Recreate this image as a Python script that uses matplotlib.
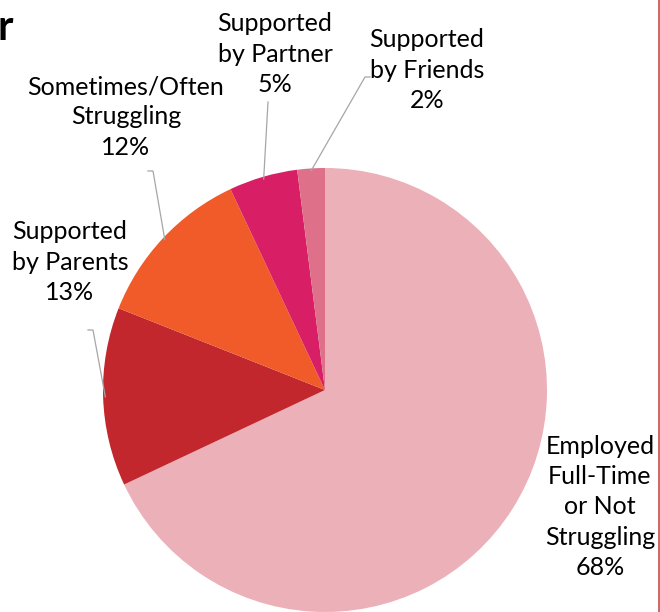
import numpy as np
import matplotlib.pyplot as plt
from matplotlib.lines import Line2D

labels = ['Employed\nFull-Time\nor Not\nStruggling', 'Supported\nby Parents',
          'Sometimes/Often\nStruggling', 'Supported\nby Partner', 'Supported\nby Friends']
values = [68, 13, 12, 5, 2]
colors = ['#ECB0B8', '#C1272D', '#F15A29', '#D81F66', '#DE7189']

# label centres and leader-line anchors, in pixels of the 660x612 canvas
label_px = [(600, 507), (70, 262), (126, 117), (275, 54), (427, 70)]
anchor_px = [None, (88, 330), (148, 171), (268, 102), (370, 77)]

W, H = 660, 612
cx, cy, R = 325, 390, 222


def to_data(px, py):
    return (px - cx) / R, (cy - py) / R


plt.rcParams['font.family'] = ['Lato', 'DejaVu Sans']
fig = plt.figure(figsize=(W / 100, H / 100), dpi=100)
ax = fig.add_axes([0, 0, 1, 1])
ax.axis('off')

wedges, _ = ax.pie(values, colors=colors, startangle=90, counterclock=False,
                   radius=1, center=(0, 0), wedgeprops=dict(linewidth=0))
ax.set_aspect('auto')
ax.set_xlim(to_data(0, 0)[0], to_data(W, 0)[0])
ax.set_ylim(to_data(0, H)[1], to_data(0, 0)[1])

for w, lab, v, lp, ap in zip(wedges, labels, values, label_px, anchor_px):
    tx, ty = to_data(*lp)
    ax.text(tx, ty, f'{lab}\n{v}%', ha='center', va='center', fontsize=18,
            color='black', linespacing=1.38)
    if ap is None:
        continue
    mid = np.deg2rad((w.theta1 + w.theta2) / 2)
    ex, ey = 0.99 * np.cos(mid), 0.99 * np.sin(mid)
    axp, ayp = to_data(*ap)
    if ap[0] > cx:
        kx = axp - 5 / R
    elif abs(ap[0] - 268) < 1:
        kx = axp
    else:
        kx = axp + 5 / R
    ax.plot([axp, kx, ex], [ayp, ayp, ey], color='#A6A6A6', lw=0.9,
            solid_joinstyle='miter')

fig.text(-0.004, 0.955, 'r', fontsize=30, fontweight='bold', ha='left', va='center')
fig.add_artist(Line2D([658.5 / W, 658.5 / W], [0, 1], color='#C0504D', lw=1.2))

fig.savefig('out.png', dpi=100)
